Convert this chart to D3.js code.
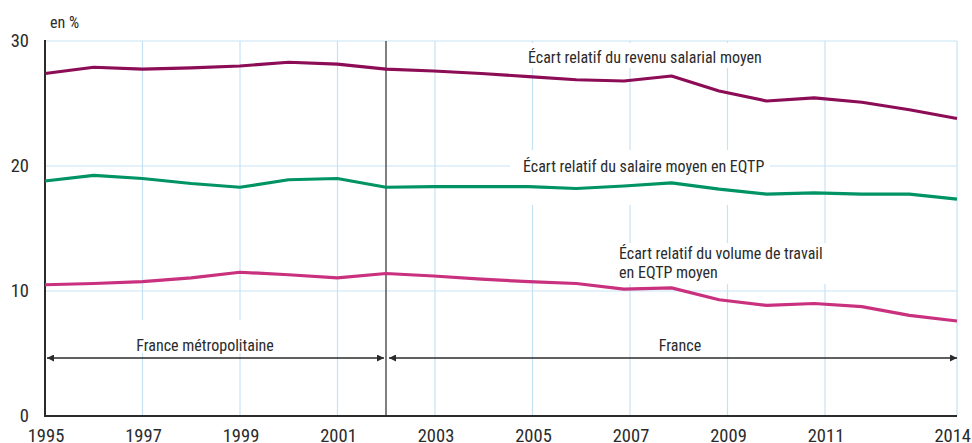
<!DOCTYPE html>
<meta charset="utf-8">
<style>

body {
  margin: 0;
  background: #fff;
}

svg text {
  font-family: "Liberation Sans Narrow", "Arial Narrow", "Roboto Condensed", sans-serif;
  fill: #2b2b2b;
}

.grid line {
  stroke: #c6e3f6;
  stroke-width: 1.2px;
}

.series path {
  fill: none;
  stroke-width: 3.2px;
  stroke-linejoin: round;
}

</style>

<svg width="972" height="443"></svg>
<script src="https://d3js.org/d3.v7.min.js"></script>

<script>

// data (en %)
var years = [1995, 1996, 1997, 1998, 1999, 2000, 2001, 2002, 2003, 2004,
             2005, 2006, 2007, 2008, 2009, 2010, 2011, 2012, 2013, 2014];

var revenu = [27.4, 27.9, 27.75, 27.85, 28.0, 28.3, 28.15, 27.75, 27.6, 27.4,
              27.15, 26.9, 26.8, 27.2, 26.0, 25.2, 25.45, 25.1, 24.5, 23.8];

var salaire = [18.8, 19.25, 19.0, 18.6, 18.3, 18.9, 19.0, 18.3, 18.35, 18.35,
               18.35, 18.2, 18.4, 18.65, 18.15, 17.75, 17.85, 17.75, 17.75, 17.35];

var volume = [10.5, 10.6, 10.75, 11.05, 11.5, 11.3, 11.05, 11.4, 11.2, 10.95,
              10.75, 10.6, 10.15, 10.25, 9.3, 8.85, 9.0, 8.75, 8.05, 7.6];

var tickYears = [1995, 1997, 1999, 2001, 2003, 2005, 2007, 2009, 2011, 2014];
var yTicks = [0, 10, 20, 30];
var breakYear = 2002;

var seriesNames = ["Écart relatif du revenu salarial moyen",
                   "Écart relatif du salaire moyen en EQTP",
                   "Écart relatif du volume de travail"];
var seriesColours = ["#8c0c56", "#009364", "#c9307e"];
var periodLabels = ["France métropolitaine", "France"];

var svg = d3.select("svg"),
    width = +svg.attr("width"),
    height = +svg.attr("height");

var plotLeft = 45, plotRight = 957, plotTop = 41, plotBottom = 416;

// the points after 2002 sit a little tighter than the year grid
var x = d3.scaleLinear()
    .domain([1995, breakYear, 2014])
    .range([plotLeft, 386, plotRight]);

var xGrid = d3.scaleLinear()
    .domain([1995, 2011, 2014])
    .range([plotLeft, 825, plotRight]);

var y = d3.scaleLinear()
    .domain([0, 30])
    .range([plotBottom, plotTop]);

//grid lines
var grid = svg.append("g").attr("class", "grid");

grid.selectAll(".gy")
    .data(yTicks.filter(function(d) { return d > 0; }))
    .enter().append("line")
      .attr("x1", plotLeft).attr("x2", plotRight)
      .attr("y1", function(d) { return y(d); })
      .attr("y2", function(d) { return y(d); });

grid.selectAll(".gx")
    .data(tickYears.slice(1))
    .enter().append("line")
      .attr("x1", function(d) { return xGrid(d); })
      .attr("x2", function(d) { return xGrid(d); })
      .attr("y1", plotTop).attr("y2", plotBottom);

//white boxes behind the labels cut the grid
var boxes = [[518, 43, 262, 25], [510, 150, 260, 55], [612, 243, 220, 41], [120, 320, 172, 33]];
svg.append("g").selectAll("rect")
    .data(boxes)
    .enter().append("rect")
      .attr("x", function(d) { return d[0]; })
      .attr("y", function(d) { return d[1]; })
      .attr("width", function(d) { return d[2]; })
      .attr("height", function(d) { return d[3]; })
      .attr("fill", "#fff");

//separator between the two territories
svg.append("line")
    .attr("x1", x(breakYear)).attr("x2", x(breakYear))
    .attr("y1", plotTop).attr("y2", plotBottom)
    .attr("stroke", "#555")
    .attr("stroke-width", 1.5);

//axes
svg.append("line")
    .attr("x1", plotLeft).attr("x2", plotLeft)
    .attr("y1", plotTop - 1).attr("y2", plotBottom + 1)
    .attr("stroke", "#2b2b2b").attr("stroke-width", 2);

svg.append("line")
    .attr("x1", plotLeft - 1).attr("x2", plotRight)
    .attr("y1", plotBottom).attr("y2", plotBottom)
    .attr("stroke", "#2b2b2b").attr("stroke-width", 2);

svg.append("g").selectAll("text")
    .data(yTicks)
    .enter().append("text")
      .attr("x", 29)
      .attr("y", function(d) { return y(d) + 6; })
      .attr("text-anchor", "end")
      .style("font-size", "18.5px")
      .text(function(d) { return d; });

svg.append("g").selectAll("text")
    .data(tickYears)
    .enter().append("text")
      .attr("x", function(d) { return d == 2014 ? width - 1 : xGrid(d) + 1; })
      .attr("y", 442)
      .attr("text-anchor", function(d) { return d == 2014 ? "end" : "middle"; })
      .style("font-size", "18.5px")
      .text(function(d) { return d; });

svg.append("text")
    .attr("x", 50).attr("y", 28)
    .style("font-size", "16px")
    .text("en %");

//lines
var line = d3.line()
    .x(function(d) { return x(d.year); })
    .y(function(d) { return y(d.value); });

var seriesData = [revenu, salaire, volume].map(function(values) {
  return values.map(function(v, i) { return {year: years[i], value: v}; });
});

svg.append("g").attr("class", "series")
    .selectAll("path")
    .data(seriesData)
    .enter().append("path")
      .attr("d", line)
      .attr("stroke", function(d, i) { return seriesColours[i]; });

//series labels
var labelPos = [[528, 63], [523, 172], [619, 259]];
svg.append("g").selectAll("text")
    .data(seriesNames)
    .enter().append("text")
      .attr("x", function(d, i) { return labelPos[i][0]; })
      .attr("y", function(d, i) { return labelPos[i][1]; })
      .style("font-size", "16px")
      .text(function(d) { return d; });

svg.append("text")
    .attr("x", 619).attr("y", 278)
    .style("font-size", "16px")
    .text("en EQTP moyen");

//period arrows
var defs = svg.append("defs");
defs.append("marker")
    .attr("id", "head")
    .attr("viewBox", "0 0 10 10")
    .attr("refX", 10).attr("refY", 5)
    .attr("markerWidth", 9).attr("markerHeight", 7)
    .attr("markerUnits", "userSpaceOnUse")
    .attr("orient", "auto-start-reverse")
  .append("path")
    .attr("d", "M0,0L10,5L0,10z")
    .attr("fill", "#2b2b2b");

var periods = [[1995, breakYear, -2, -2], [breakYear, 2014, 3, 0]];
svg.append("g").selectAll("line")
    .data(periods)
    .enter().append("line")
      .attr("x1", function(d) { return x(d[0]) + (d[0] == 1995 ? 2 : 3); })
      .attr("x2", function(d) { return x(d[1]) + d[3]; })
      .attr("y1", 358).attr("y2", 358)
      .attr("stroke", "#2b2b2b")
      .attr("stroke-width", 1.6)
      .attr("marker-start", "url(#head)")
      .attr("marker-end", "url(#head)");

svg.append("g").selectAll("text")
    .data(periodLabels)
    .enter().append("text")
      .attr("x", function(d, i) { return i == 0 ? 205 : 680; })
      .attr("y", 351)
      .attr("text-anchor", "middle")
      .style("font-size", "16px")
      .text(function(d) { return d; });

</script>
